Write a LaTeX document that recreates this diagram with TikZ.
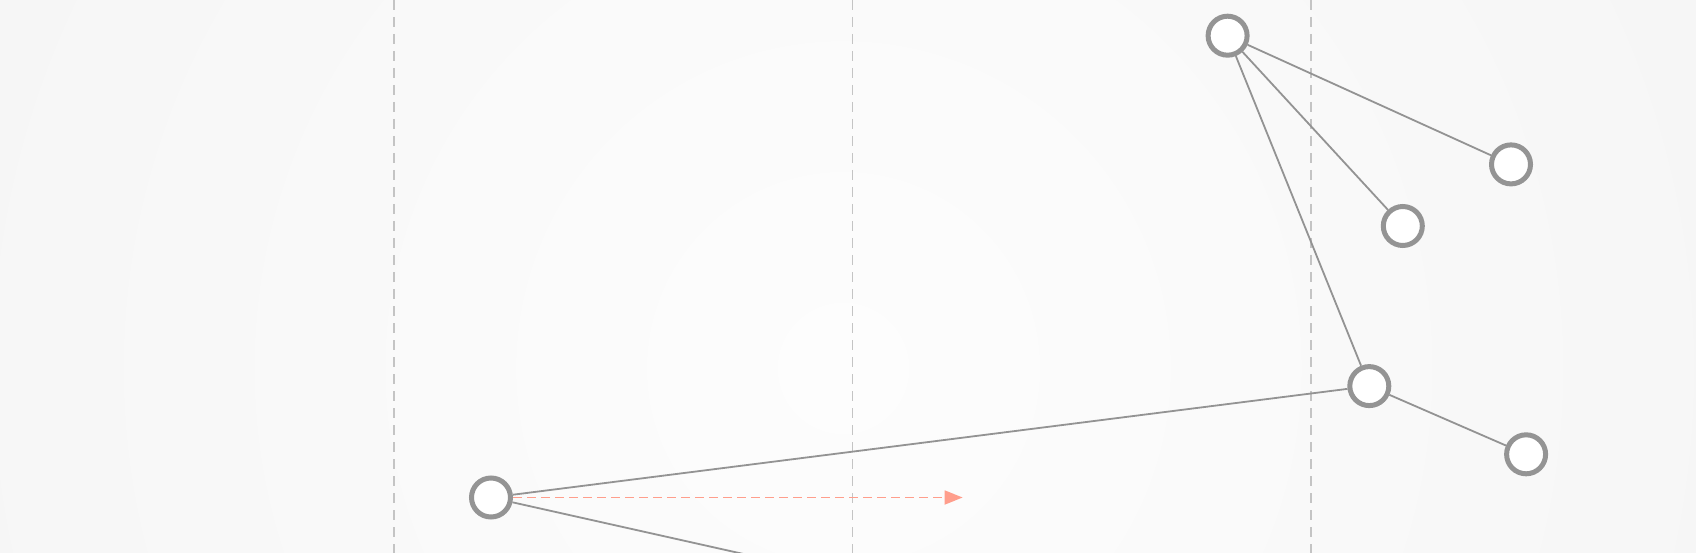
\documentclass[tikz,border=0pt]{standalone}
\usepackage{xcolor}
\usepackage{tikz}
\usetikzlibrary{arrows.meta, calc}
\definecolor{paper}{HTML}{FDFDFD}
\definecolor{paperEdge}{HTML}{F0F0F0}
\definecolor{ring}{HTML}{949494}
\definecolor{link}{HTML}{939393}
\definecolor{guide}{HTML}{C4C4C4}
\definecolor{salmon}{HTML}{FF9E8C}

\begin{document}
\begin{tikzpicture}[x=1pt,y=-1pt]
      \tikzset{vertex/.style={circle,draw=ring,fill=white,line width=5pt,minimum size=39pt,inner sep=0pt}, linkline/.style={draw=link,line width=1.8pt}, guideline/.style={draw=guide,line width=1.6pt,dash pattern=on 10pt off 7pt}, moveline/.style={draw=salmon,line width=1.8pt,dash pattern=on 9pt off 5pt,-{Triangle[length=18pt,width=14pt]}}}
      \useasboundingbox (0,0) rectangle (1696,553);
      \begin{scope}
        \clip (0,0) rectangle (1696,553);
        \shade[inner color=paper,outer color=paperEdge] (-857,-1332) rectangle (2543,2068);
        % guides
        \foreach \gx in {393.7,852.3,1310.9}
          \draw[guideline] (\gx,0) -- (\gx,553);
        \node[vertex] (hub) at (1227.6,35.7) {};
        \node[vertex] (far) at (1511,164.4) {};
        \node[vertex] (mid) at (1402.8,226) {};
        \node[vertex] (joint) at (1369.3,386.1) {};
        \node[vertex] (tail) at (1526.1,454.3) {};
        \node[vertex] (root) at (491,497.5) {};
        \coordinate (exit) at (900,589);
        \coordinate (goal) at (962.6,497.5);
        \draw[linkline] (hub) -- (far);
        \draw[linkline] (hub) -- (mid);
        \draw[linkline] (hub) -- (joint);
        \draw[linkline] (joint) -- (root);
        \draw[linkline] (joint) -- (tail);
        \draw[linkline] (root) -- (exit);
        \draw[moveline] (root) -- (goal);
      \end{scope}
    \end{tikzpicture}
\end{document}
